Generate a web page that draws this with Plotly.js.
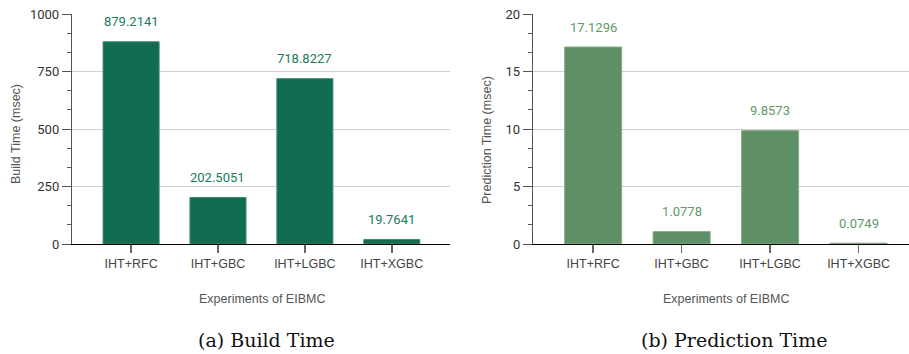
<!DOCTYPE html>
<html>
<head>
<meta charset="utf-8">
<script src="https://cdn.plot.ly/plotly-3.0.1.min.js"></script>
<style>html,body{margin:0;padding:0;background:#fff;}#chart{width:909px;height:354px;}</style>
</head>
<body>
<div id="chart"></div>
<script>
const categories = ["IHT+RFC", "IHT+GBC", "IHT+LGBC", "IHT+XGBC"];
const buildTime = [879.2141, 202.5051, 718.8227, 19.7641];
const predictionTime = [17.1296, 1.0778, 9.8573, 0.0749];
const buildTicks = [0, 250, 500, 750, 1000];
const predTicks = [0, 5, 10, 15, 20];

const W = 909, H = 354;
const px = v => v / W;
const py = v => (H - v) / H;

const buildColor = "#106b51";
const buildLabel = "#1d7a5b";
const predColor = "#5f8f65";
const predLabel = "#5e9a69";
const font = "Roboto, Arial, sans-serif";
const sans = "'Liberation Sans', Arial, sans-serif";

const traces = [
  {type: "bar", x: categories, y: buildTime, xaxis: "x", yaxis: "y",
   marker: {color: buildColor, line: {color: "#3f8a72", width: 1}}, hoverinfo: "none"},
  {type: "bar", x: categories, y: predictionTime, xaxis: "x2", yaxis: "y2",
   marker: {color: predColor, line: {color: "#86ad89", width: 1}}, hoverinfo: "none"}
];

const annotations = [];
categories.forEach((c, i) => {
  annotations.push({xref: "x", yref: "y", x: c, y: buildTime[i], yshift: 20, showarrow: false,
    xanchor: "center", yanchor: "middle",
    text: buildTime[i].toFixed(4), font: {family: font, size: 13, color: buildLabel}});
  annotations.push({xref: "x2", yref: "y2", x: c, y: predictionTime[i], yshift: 20, showarrow: false,
    xanchor: "center", yanchor: "middle",
    text: predictionTime[i].toFixed(4), font: {family: font, size: 13, color: predLabel}});
});
const titleFont = {family: sans, size: 12.5, color: "#555"};
function note(x, y, text, f, angle) {
  annotations.push({xref: "paper", yref: "paper", x: px(x), y: py(y), xanchor: "center", yanchor: "middle",
    showarrow: false, text: text, font: f, textangle: angle || 0});
}
note(16, 134, "Build Time (msec)", titleFont, -90);
note(487, 140, "Prediction Time (msec)", titleFont, -90);
note(262, 299, "Experiments of EIBMC", titleFont);
note(726, 299, "Experiments of EIBMC", titleFont);
const capFont = {family: "'DejaVu Serif', serif", size: 19, color: "#111"};
note(266, 340, "(a) Build Time", capFont);
note(734, 340, "(b) Prediction Time", capFont);

const xBase = {type: "category", showgrid: false, zeroline: false, showline: true, linecolor: "#000", linewidth: 1,
  ticks: "outside", ticklen: 8, tickcolor: "#666", tickwidth: 1.5,
  tickfont: {family: sans, size: 12.5, color: "#444"}, fixedrange: true};
const yBase = {showgrid: true, gridcolor: "#cfcfcf", gridwidth: 1, zeroline: false,
  showline: true, linecolor: "#555", linewidth: 1.2,
  ticks: "outside", ticklen: 9, tickcolor: "#555", tickwidth: 1,
  tickfont: {family: font, size: 13, color: "#333"}, fixedrange: true};

const layout = {
  width: W, height: H,
  margin: {l: 0, r: 0, t: 0, b: 0},
  paper_bgcolor: "#fff", plot_bgcolor: "#fff",
  showlegend: false,
  bargap: 0.355,
  xaxis: Object.assign({}, xBase, {domain: [px(72), px(450)], range: [-0.68, 3.67], anchor: "y"}),
  yaxis: Object.assign({}, yBase, {domain: [py(244), py(14)], range: [0, 1000], tickvals: buildTicks,
    ticktext: buildTicks.map(String), anchor: "x",
    minor: {dtick: 250 / 3, tick0: 0, ticks: "outside", ticklen: 4, tickcolor: "#555", showgrid: false}}),
  xaxis2: Object.assign({}, xBase, {domain: [px(533), px(909)], range: [-0.68, 3.57], anchor: "y2"}),
  yaxis2: Object.assign({}, yBase, {domain: [py(244), py(14)], range: [0, 20], tickvals: predTicks,
    ticktext: predTicks.map(String), anchor: "x2",
    minor: {dtick: 5 / 3, tick0: 0, ticks: "outside", ticklen: 4, tickcolor: "#555", showgrid: false}}),
  annotations: annotations
};

Plotly.newPlot("chart", traces, layout, {displayModeBar: false, staticPlot: true});
</script>
</body>
</html>
